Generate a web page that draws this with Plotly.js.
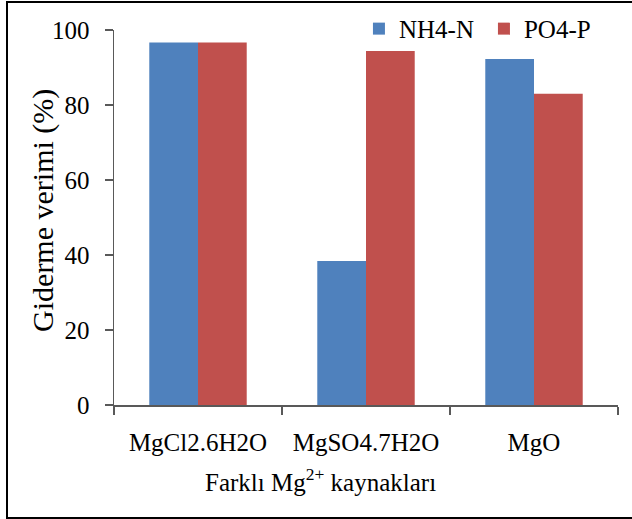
<!DOCTYPE html>
<html>
<head>
<meta charset="utf-8">
<script src="https://cdn.plot.ly/plotly-3.0.1.min.js"></script>
<style>
  html, body { margin: 0; padding: 0; background: #fff; }
  #wrap { position: relative; width: 632px; height: 519px; overflow: hidden; }
  #chart { position: absolute; left: 0; top: 0; width: 632px; height: 519px; }
  #frame {
    position: absolute; left: 6px; top: 1px; width: 700px; height: 518px;
    border: 2.5px solid #000; box-sizing: border-box; pointer-events: none;
  }
</style>
</head>
<body>
<div id="wrap">
  <div id="chart"></div>
  <div id="frame"></div>
</div>
<script>
// Magnesium sources and removal efficiencies (%)
const categories = ['MgCl2.6H2O', 'MgSO4.7H2O', 'MgO'];
const nh4n = [96.7, 38.4, 92.3];
const po4p = [96.7, 94.4, 83.0];
const seriesNames = ['NH4-N', 'PO4-P'];
const yTicks = [0, 20, 40, 60, 80, 100];

const serif = 'Liberation Serif';
const axisGray = '#595959';

const traces = [
  { type: 'bar', name: seriesNames[0], x: categories, y: nh4n,
    marker: { color: '#4F81BD', line: { width: 0 } } },
  { type: 'bar', name: seriesNames[1], x: categories, y: po4p,
    marker: { color: '#C0504D', line: { width: 0 } } }
];

const layout = {
  width: 632, height: 519,
  margin: { l: 114, r: 14, t: 30, b: 114, pad: 0, autoexpand: false },
  paper_bgcolor: '#fff', plot_bgcolor: '#fff',
  font: { family: serif, size: 25, color: '#000' },
  barmode: 'group', bargap: 0.42, bargroupgap: 0,
  showlegend: true,
  legend: {
    orientation: 'h', x: 0.486, y: 1.003, xanchor: 'left', yanchor: 'middle',
    bgcolor: 'rgba(0,0,0,0)', font: { family: serif, size: 25, color: '#000' },
    itemwidth: 30, entrywidth: 80, traceorder: 'normal'
  },
  xaxis: {
    type: 'category', range: [-0.5, 2.5], tickson: 'boundaries',
    ticks: 'outside', ticklen: 8, tickwidth: 1.5, tickcolor: axisGray,
    showline: true, linecolor: axisGray, linewidth: 1.5,
    showgrid: false, zeroline: false, ticklabelstandoff: 14,
    tickfont: { family: serif, size: 25, color: '#000' }
  },
  yaxis: {
    range: [0, 100], tickvals: yTicks, ticktext: yTicks.map(String),
    ticks: 'outside', ticklen: 8, tickwidth: 1.5, tickcolor: axisGray,
    showline: true, linecolor: axisGray, linewidth: 1.5,
    showgrid: false, zeroline: false, ticklabelstandoff: 10,
    tickfont: { family: serif, size: 25, color: '#000' }
  },
  annotations: [
    { text: 'Giderme verimi (%)', xref: 'paper', yref: 'paper',
      x: -0.141, y: 0.52, xanchor: 'center', yanchor: 'middle',
      textangle: -90, showarrow: false,
      font: { family: serif, size: 30, color: '#000' } },
    { text: 'Farklı Mg<sup>2+</sup> kaynakları', xref: 'paper', yref: 'paper',
      x: 0.41, y: -0.2, xanchor: 'center', yanchor: 'middle',
      showarrow: false,
      font: { family: serif, size: 25, color: '#000' } }
  ]
};

Plotly.newPlot('chart', traces, layout, { staticPlot: true, displayModeBar: false });
</script>
</body>
</html>
